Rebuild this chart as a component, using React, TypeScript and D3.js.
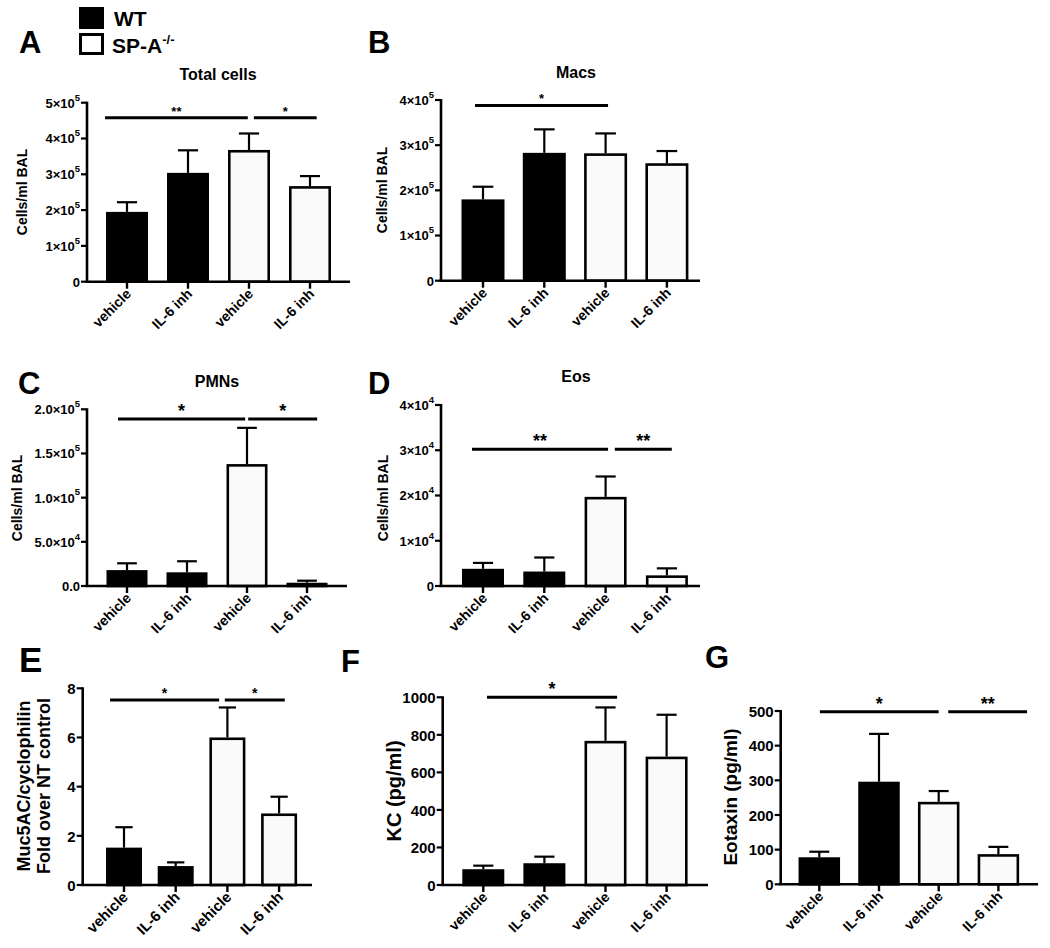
import React from "react";
import * as d3 from "d3";

// ---------- data ----------
const categories = ["vehicle", "IL-6 inh", "vehicle", "IL-6 inh"];
const genotype = ["WT", "WT", "SP-A-/-", "SP-A-/-"];

const totalMean = [1.95e5, 3.04e5, 3.68e5, 2.67e5];
const totalSem = [0.27e5, 0.63e5, 0.46e5, 0.28e5];

const macsMean = [1.8e5, 2.83e5, 2.82e5, 2.6e5];
const macsSem = [0.28e5, 0.52e5, 0.44e5, 0.27e5];

const pmnMean = [1.8e4, 1.55e4, 1.38e5, 3.7e3];
const pmnSem = [7.7e3, 1.25e4, 4.1e4, 2.3e3];

const eosMean = [3.8e3, 3.2e3, 1.97e4, 2.35e3];
const eosSem = [1.3e3, 3.1e3, 4.5e3, 1.55e3];

const mucMean = [1.52, 0.77, 6.0, 2.91];
const mucSem = [0.83, 0.15, 1.22, 0.68];

const kcMean = [84, 116, 768, 684];
const kcSem = [19, 35, 178, 223];

const eotaxinMean = [78, 296, 238, 87];
const eotaxinSem = [16, 138, 31, 21];

type Sig = { from: number; to: number; label: string; level: number };

const totalSig: Sig[] = [
  { from: -0.36, to: 1.98, label: "**", level: 4.58e5 },
  { from: 2.08, to: 3.11, label: "*", level: 4.58e5 },
];
const macsSig: Sig[] = [{ from: -0.13, to: 2.04, label: "*", level: 3.88e5 }];
const pmnSig: Sig[] = [
  { from: -0.15, to: 1.97, label: "*", level: 1.89e5 },
  { from: 2.02, to: 3.17, label: "*", level: 1.89e5 },
];
const eosSig: Sig[] = [
  { from: -0.18, to: 2.04, label: "**", level: 3.02e4 },
  { from: 2.15, to: 3.08, label: "**", level: 3.02e4 },
];
const mucSig: Sig[] = [
  { from: -0.27, to: 1.84, label: "*", level: 7.52 },
  { from: 1.95, to: 3.11, label: "*", level: 7.52 },
];
const kcSig: Sig[] = [{ from: 0.06, to: 2.19, label: "*", level: 1000 }];
const eotaxinSig: Sig[] = [
  { from: 0.01, to: 2.0, label: "*", level: 498 },
  { from: 2.16, to: 3.48, label: "**", level: 498 },
];

const sciTicks = (exp: number, decimals: number) => (v: number) =>
  v === 0
    ? { base: decimals ? (0).toFixed(decimals) : "0", sup: "" }
    : {
        base: (v / Math.pow(10, exp)).toFixed(decimals) + "×10",
        sup: String(exp),
      };
const sciTicksMixed = (decimals: number) => (v: number) => {
  if (v === 0) return { base: (0).toFixed(decimals), sup: "" };
  const e = Math.floor(Math.log10(v) + 1e-9);
  return { base: (v / Math.pow(10, e)).toFixed(decimals) + "×10", sup: String(e) };
};
const plainTicks = (v: number) => ({ base: String(v), sup: "" });

const FONT = "'Liberation Sans', Arial, Helvetica, sans-serif";

type PanelCfg = {
  letter: string;
  letterX: number;
  letterY: number;
  letterSize: number;
  title?: string;
  titleX?: number;
  titleY?: number;
  yLabel: string[];
  yLabelX: number;
  yLabelY: number;
  yLabelSize: number;
  yLabelGap?: number;
  axisX: number;
  zeroY: number;
  topY: number;
  yMax: number;
  yStep: number;
  fmt: (v: number) => { base: string; sup: string };
  tickSize: number;
  supSize: number;
  c0: number;
  step: number;
  barW: number;
  axisEnd: number;
  xLabelSize: number;
  starSize: number;
  mean: number[];
  sem: number[];
  sig: Sig[];
};

const panels: PanelCfg[] = [
  {
    letter: "A", letterX: 19, letterY: 53, letterSize: 31,
    title: "Total cells", titleX: 218, titleY: 80,
    yLabel: ["Cells/ml BAL"], yLabelX: 27, yLabelY: 192, yLabelSize: 14,
    axisX: 87, zeroY: 281.7, topY: 102.7, yMax: 5e5, yStep: 1e5,
    fmt: sciTicks(5, 0), tickSize: 13, supSize: 9.5,
    c0: 127, step: 61, barW: 42, axisEnd: 350, xLabelSize: 14, starSize: 13,
    mean: totalMean, sem: totalSem, sig: totalSig,
  },
  {
    letter: "B", letterX: 368, letterY: 53, letterSize: 31,
    title: "Macs", titleX: 576, titleY: 78,
    yLabel: ["Cells/ml BAL"], yLabelX: 387, yLabelY: 190, yLabelSize: 14,
    axisX: 441, zeroY: 280.7, topY: 100, yMax: 4e5, yStep: 1e5,
    fmt: sciTicks(5, 0), tickSize: 13, supSize: 9.5,
    c0: 483, step: 61.3, barW: 43, axisEnd: 700, xLabelSize: 14, starSize: 13,
    mean: macsMean, sem: macsSem, sig: macsSig,
  },
  {
    letter: "C", letterX: 18, letterY: 394, letterSize: 31,
    title: "PMNs", titleX: 217, titleY: 387,
    yLabel: ["Cells/ml BAL"], yLabelX: 22, yLabelY: 498, yLabelSize: 14,
    axisX: 87, zeroY: 586, topY: 409.3, yMax: 2e5, yStep: 5e4,
    fmt: sciTicksMixed(1), tickSize: 13, supSize: 9.5,
    c0: 127, step: 60, barW: 41, axisEnd: 347, xLabelSize: 14, starSize: 18,
    mean: pmnMean, sem: pmnSem, sig: pmnSig,
  },
  {
    letter: "D", letterX: 368, letterY: 394, letterSize: 31,
    title: "Eos", titleX: 576, titleY: 382,
    yLabel: ["Cells/ml BAL"], yLabelX: 388, yLabelY: 498, yLabelSize: 14,
    axisX: 441, zeroY: 586, topY: 405, yMax: 4e4, yStep: 1e4,
    fmt: sciTicks(4, 0), tickSize: 13, supSize: 9.5,
    c0: 483, step: 61.3, barW: 42, axisEnd: 700, xLabelSize: 14, starSize: 18,
    mean: eosMean, sem: eosSem, sig: eosSig,
  },
  {
    letter: "E", letterX: 19, letterY: 672, letterSize: 35,
    yLabel: ["Muc5AC/cyclophilin", "Fold over NT control"], yLabelX: 40, yLabelY: 786, yLabelSize: 18, yLabelGap: 20,
    axisX: 82.7, zeroY: 885, topY: 688.3, yMax: 8, yStep: 2,
    fmt: plainTicks, tickSize: 15, supSize: 9,
    c0: 124, step: 51.7, barW: 36, axisEnd: 312, xLabelSize: 15, starSize: 14,
    mean: mucMean, sem: mucSem, sig: mucSig,
  },
  {
    letter: "F", letterX: 341, letterY: 672, letterSize: 31,
    yLabel: ["KC (pg/ml)"], yLabelX: 401, yLabelY: 791, yLabelSize: 20,
    axisX: 442.7, zeroY: 885, topY: 697.3, yMax: 1000, yStep: 200,
    fmt: plainTicks, tickSize: 15, supSize: 9,
    c0: 483.3, step: 61.1, barW: 42, axisEnd: 708, xLabelSize: 14, starSize: 18,
    mean: kcMean, sem: kcSem, sig: kcSig,
  },
  {
    letter: "G", letterX: 705, letterY: 668, letterSize: 31,
    yLabel: ["Eotaxin (pg/ml)"], yLabelX: 737, yLabelY: 797, yLabelSize: 19,
    axisX: 780.7, zeroY: 884.3, topY: 711, yMax: 500, yStep: 100,
    fmt: plainTicks, tickSize: 15, supSize: 9,
    c0: 819.3, step: 59.7, barW: 41.5, axisEnd: 1038, xLabelSize: 14, starSize: 18,
    mean: eotaxinMean, sem: eotaxinSem, sig: eotaxinSig,
  },
];

const Panel: React.FC<{ p: PanelCfg }> = ({ p }) => {
  const y = d3.scaleLinear().domain([0, p.yMax]).range([p.zeroY, p.topY]);
  const pad = 1 - p.barW / p.step;
  const keys = categories.map((_, i) => String(i));
  const x = d3
    .scaleBand<string>()
    .domain(keys)
    .range([p.c0 - p.step / 2, p.c0 + (categories.length - 0.5) * p.step])
    .paddingInner(pad)
    .paddingOuter(pad / 2);
  const bw = x.bandwidth();
  const center = (i: number) => (x(String(i)) as number) + bw / 2;
  const xi = d3.scaleLinear().domain([0, 3]).range([center(0), center(3)]);
  const ticks = d3.range(0, p.yMax + p.yStep / 2, p.yStep);
  const sw = 2.6;
  return (
    <g fontFamily={FONT} fontWeight="bold">
      <text x={p.letterX} y={p.letterY} fontSize={p.letterSize}>{p.letter}</text>
      {p.title && (
        <text x={p.titleX} y={p.titleY} fontSize={16} textAnchor="middle">{p.title}</text>
      )}
      {p.yLabel.map((l, k) => {
        const gap = p.yLabelGap || 0;
        const xx = p.yLabelX + (k - (p.yLabel.length - 1) / 2) * gap;
        return (
          <text key={k} transform={`translate(${xx},${p.yLabelY}) rotate(-90)`} fontSize={p.yLabelSize} textAnchor="middle">{l}</text>
        );
      })}
      {/* bars */}
      {p.mean.map((m, i) => {
        const top = y(m);
        const errTop = y(m + p.sem[i]);
        const cx = center(i);
        return (
          <g key={i}>
            <line x1={cx} x2={cx} y1={top} y2={errTop} stroke="#000" strokeWidth={2.2} />
            <line x1={cx - bw * 0.24} x2={cx + bw * 0.24} y1={errTop} y2={errTop} stroke="#000" strokeWidth={2.2} />
            <rect
              x={(x(String(i)) as number) + sw / 2}
              y={top + sw / 2}
              width={bw - sw}
              height={Math.max(0, p.zeroY - top - sw / 2)}
              fill={genotype[i] === "WT" ? "#000" : "#fafafa"}
              stroke="#000"
              strokeWidth={sw}
            />
          </g>
        );
      })}
      {/* axes */}
      <line x1={p.axisX} x2={p.axisX} y1={p.zeroY} y2={p.topY - 1} stroke="#000" strokeWidth={2.6} />
      <line x1={p.axisX - 1.3} x2={p.axisEnd} y1={p.zeroY} y2={p.zeroY} stroke="#000" strokeWidth={2.6} />
      {ticks.map((t, k) => {
        const f = p.fmt(t);
        return (
          <g key={k}>
            <line x1={p.axisX - 6} x2={p.axisX} y1={y(t)} y2={y(t)} stroke="#000" strokeWidth={2.2} />
            <text x={p.axisX - 7} y={y(t)} dy="0.38em" fontSize={p.tickSize} textAnchor="end">
              {f.base}
              {f.sup && (
                <tspan fontSize={p.supSize} dy="-0.75em">{f.sup}</tspan>
              )}
            </text>
          </g>
        );
      })}
      {categories.map((c, i) => {
        const cx = center(i);
        return (
          <g key={i}>
            <line x1={cx} x2={cx} y1={p.zeroY} y2={p.zeroY + 7} stroke="#000" strokeWidth={2.4} />
            <text transform={`translate(${cx + 5},${p.zeroY + 13}) rotate(-45)`} fontSize={p.xLabelSize} textAnchor="end">{c}</text>
          </g>
        );
      })}
      {/* significance */}
      {p.sig.map((s, k) => {
        const x1 = xi(s.from);
        const x2 = xi(s.to);
        const yy = y(s.level);
        return (
          <g key={k}>
            <line x1={x1} x2={x2} y1={yy} y2={yy} stroke="#000" strokeWidth={3} />
            <text x={(x1 + x2) / 2} y={yy - 2} fontSize={p.starSize} textAnchor="middle">{s.label}</text>
          </g>
        );
      })}
    </g>
  );
};

export default function App() {
  return (
    <svg width={1050} height={948} style={{ position: "absolute", left: 0, top: 0, background: "#fff" }}>
      <rect width={1050} height={948} fill="#fff" />
      {/* legend */}
      <g fontFamily={FONT} fontWeight="bold">
        <rect x={79} y={7} width={25} height={22} fill="#000" />
        <rect x={80.5} y={34.5} width={22} height={19} fill="#fff" stroke="#000" strokeWidth={3} />
        <text x={114} y={26} fontSize={21}>WT</text>
        <text x={112} y={53} fontSize={21}>
          SP-A<tspan fontSize={13} dy="-9">-/-</tspan>
        </text>
      </g>
      {panels.map((p) => (
        <Panel key={p.letter} p={p} />
      ))}
    </svg>
  );
}
